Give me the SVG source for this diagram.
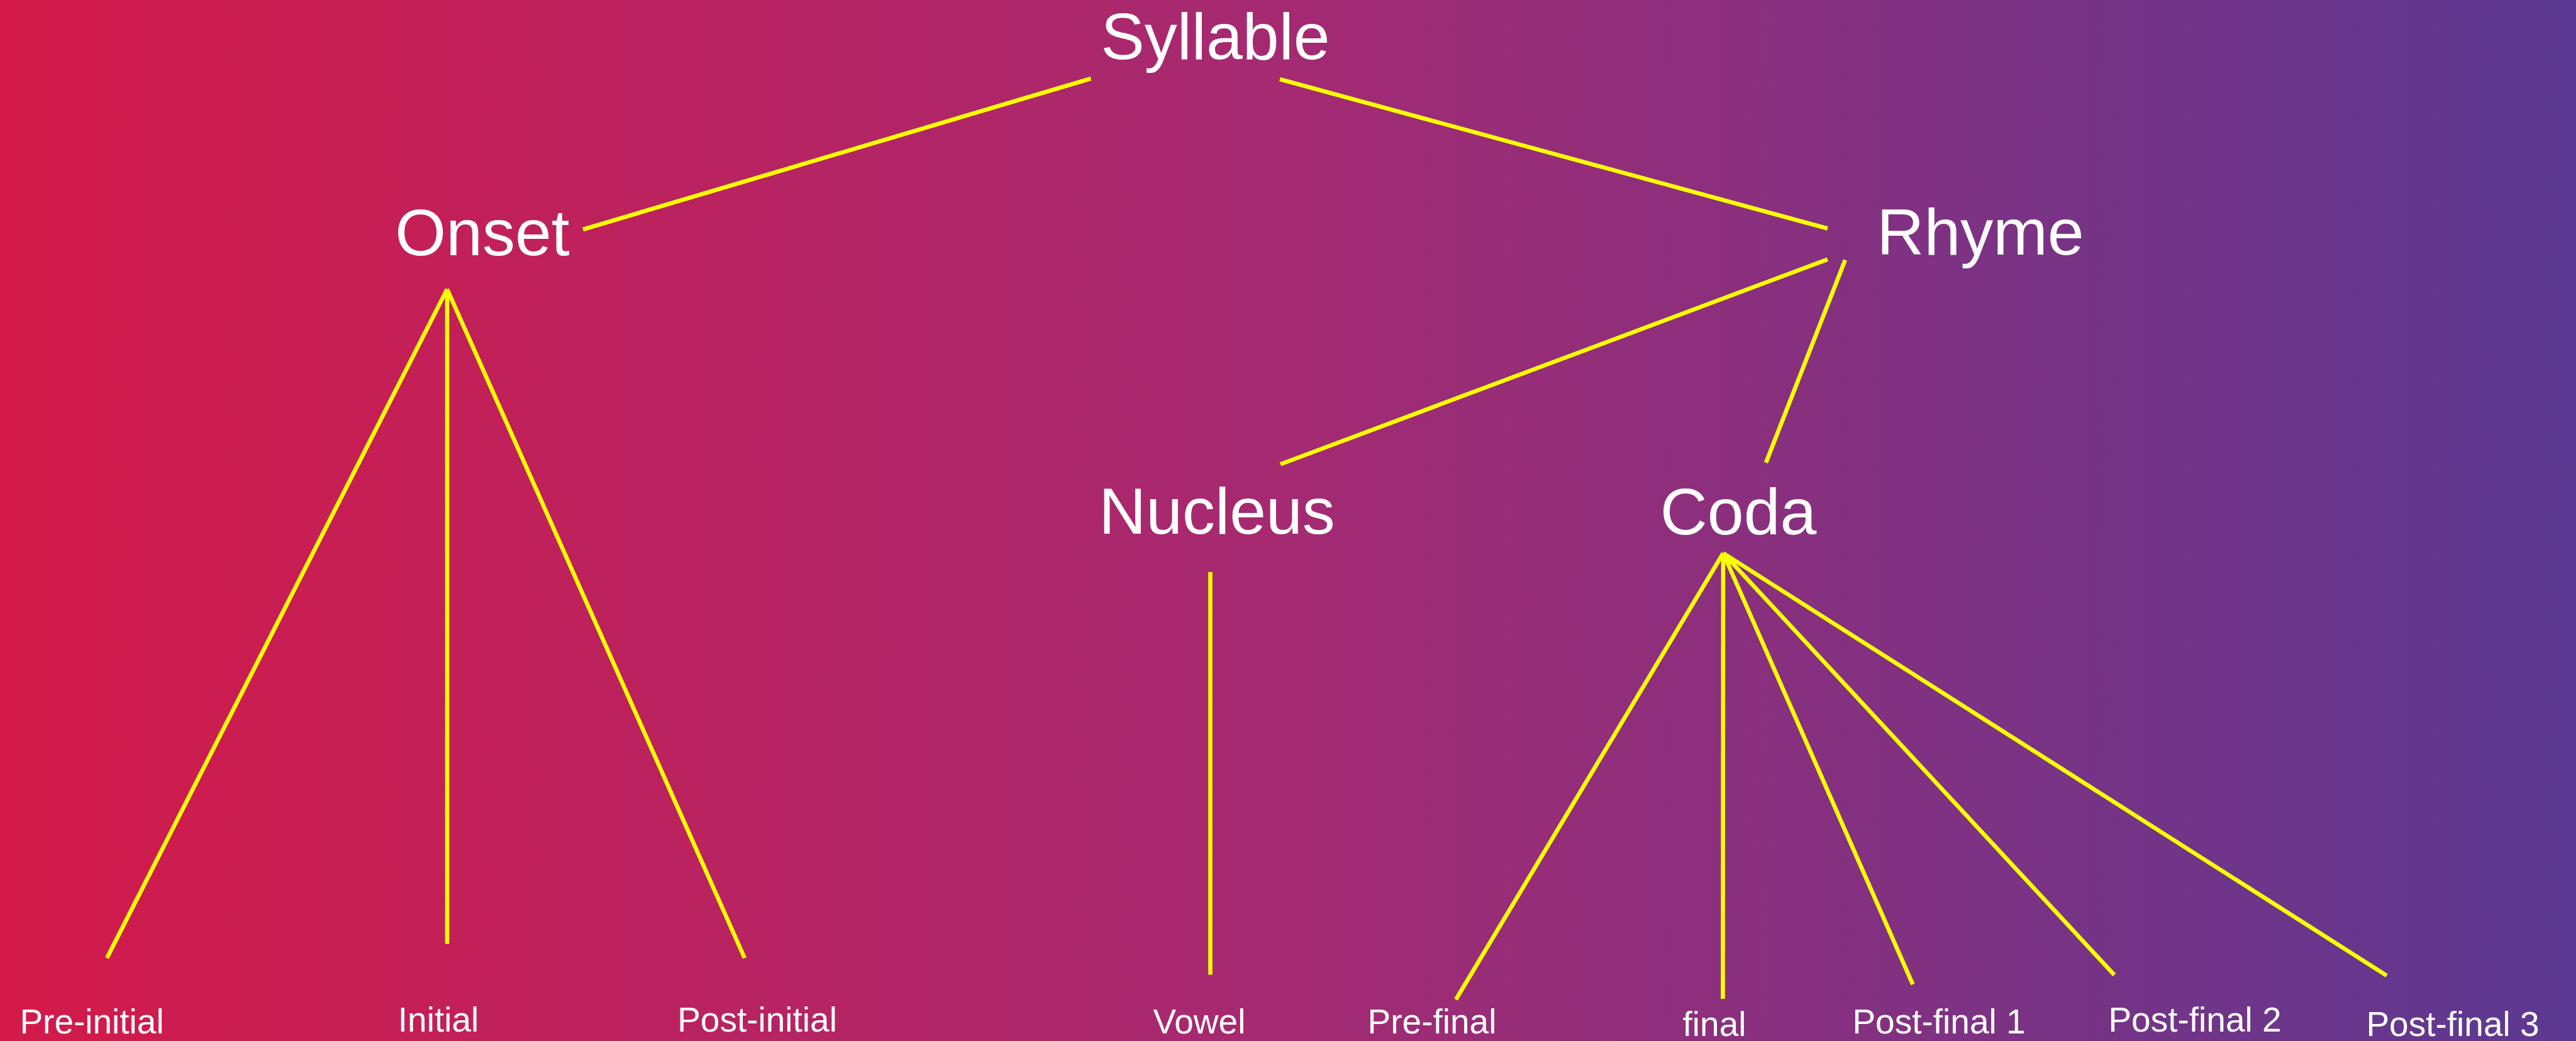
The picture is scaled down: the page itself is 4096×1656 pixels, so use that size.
<svg xmlns="http://www.w3.org/2000/svg" width="4096" height="1656" viewBox="0 0 4096 1656">
  <defs>
    <linearGradient id="bg" x1="0" y1="0" x2="1" y2="0">
      <stop offset="0" stop-color="#D31A4A"/>
      <stop offset="0.5" stop-color="#A42A72"/>
      <stop offset="1" stop-color="#5B3992"/>
    </linearGradient>
    <style>
      .big { font-family: "Liberation Sans", Arial, sans-serif; font-size: 104px; fill: #FFFFFF; text-anchor: middle; }
      .small { font-family: "Liberation Sans", Arial, sans-serif; font-size: 55px; fill: #FFFFFF; text-anchor: middle; }
      .edge { stroke: #FFFF00; stroke-width: 6.6; stroke-linecap: butt; fill: none; }
    </style>
  </defs>
  <rect x="0" y="0" width="4096" height="1656" fill="url(#bg)"/>

  <g id="connectors">
    <line class="edge" x1="927" y1="365" x2="1734.5" y2="125"/>
    <line class="edge" x1="2035" y1="126" x2="2906" y2="363.5"/>
    <line class="edge" x1="2906" y1="412.6" x2="2036" y2="738.5"/>
    <line class="edge" x1="2934" y1="413.5" x2="2808" y2="736"/>
    <line class="edge" x1="711" y1="460" x2="170" y2="1524"/>
    <line class="edge" x1="711" y1="460" x2="711" y2="1501.5"/>
    <line class="edge" x1="711" y1="460" x2="1184" y2="1524"/>
    <line class="edge" x1="1924.5" y1="910" x2="1924.5" y2="1550.5"/>
    <line class="edge" x1="2740" y1="880" x2="2315" y2="1590"/>
    <line class="edge" x1="2740" y1="880" x2="2739.5" y2="1589"/>
    <line class="edge" x1="2740" y1="880" x2="3041.5" y2="1566"/>
    <line class="edge" x1="2740" y1="880" x2="3362" y2="1551"/>
    <line class="edge" x1="2740" y1="880" x2="3795" y2="1552"/>
  </g>

  <g id="syllable"><text class="big" x="1932.5" y="93.7">Syllable</text></g>
  <g id="onset"><text class="big" x="767" y="405.6">Onset</text></g>
  <g id="rhyme"><text class="big" x="3149" y="404.7">Rhyme</text></g>
  <g id="nucleus"><text class="big" x="1935" y="848.8">Nucleus</text></g>
  <g id="coda"><text class="big" x="2764" y="849.7">Coda</text></g>

  <g id="pre-initial"><text class="small" x="146" y="1644">Pre-initial</text></g>
  <g id="initial"><text class="small" x="697" y="1641">Initial</text></g>
  <g id="post-initial"><text class="small" x="1204" y="1641">Post-initial</text></g>
  <g id="vowel"><text class="small" x="1907" y="1644">Vowel</text></g>
  <g id="pre-final"><text class="small" x="2277" y="1644">Pre-final</text></g>
  <g id="final"><text class="small" x="2726" y="1648">final</text></g>
  <g id="post-final-1"><text class="small" x="3083" y="1644">Post-final 1</text></g>
  <g id="post-final-2"><text class="small" x="3490" y="1641">Post-final 2</text></g>
  <g id="post-final-3"><text class="small" x="3900" y="1648">Post-final 3</text></g>
</svg>
